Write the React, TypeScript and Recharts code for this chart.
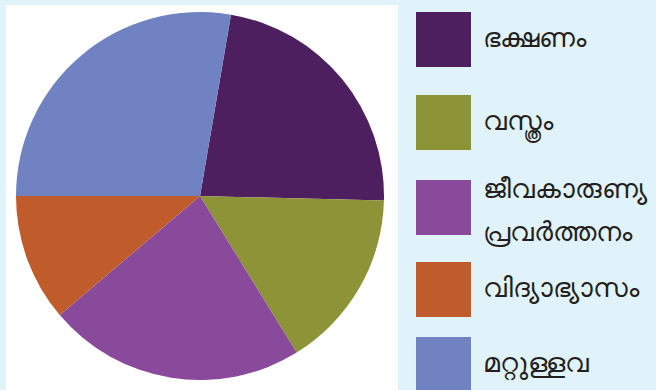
import React from 'react';
import { PieChart, Pie, Cell, Legend } from 'recharts';

const categories = ['ഭക്ഷണം', 'വസ്ത്രം', 'ജീവകാരുണ്യ പ്രവർത്തനം', 'വിദ്യാഭ്യാസം', 'മറ്റുള്ളവ'];
const shares = [22.7, 15.8, 22.6, 11.2, 27.7];
const colors = ['#4E1F5E', '#8D9337', '#8A4A9B', '#C05B2B', '#7182C2'];

const data = categories.map((name, i) => ({ name, value: shares[i] }));

const legendTops = [12, 95, 180, 262, 337];

const renderLegend = () => {
  return (
    <div style={{ position: 'relative', width: 240, height: 390 }}>
      {categories.map((name, i) => {
        const lines = name.split(' ');
        return (
          <div
            key={name}
            style={{
              position: 'absolute',
              left: 0,
              top: legendTops[i],
              height: 55,
              display: 'flex',
              alignItems: 'center',
            }}
          >
            <div style={{ width: 55, height: 55, background: colors[i], flex: 'none' }} />
            <div
              style={{
                marginLeft: 12,
                fontFamily: '"Noto Sans", "DejaVu Sans", sans-serif',
                fontSize: 27,
                color: '#231F20',
                lineHeight: '43px',
                whiteSpace: 'nowrap',
                marginTop: lines.length > 1 ? 2 : -7,
              }}
            >
              {lines.map((l, k) => (
                <div key={k}>{l}</div>
              ))}
            </div>
          </div>
        );
      })}
    </div>
  );
};

export default function App() {
  return (
    <div
      style={{
        position: 'fixed',
        left: 0,
        top: 0,
        width: 656,
        height: 390,
        background: '#E0F2FA',
        overflow: 'hidden',
      }}
    >
      <div
        style={{
          position: 'absolute',
          left: 6,
          top: 5,
          width: 392,
          height: 385,
          background: '#FFFFFF',
        }}
      />
      <div style={{ position: 'absolute', left: 0, top: 0 }}>
        <PieChart width={656} height={390}>
          <Pie
            data={data}
            dataKey="value"
            nameKey="name"
            cx={195}
            cy={191}
            outerRadius={184}
            startAngle={80.3}
            endAngle={-279.7}
            stroke="none"
            isAnimationActive={false}
          >
            {data.map((d, i) => (
              <Cell key={d.name} fill={colors[i]} />
            ))}
          </Pie>
          <Legend
            content={renderLegend}
            wrapperStyle={{ position: 'absolute', left: 416, top: 0, width: 240, height: 390 }}
          />
        </PieChart>
      </div>
    </div>
  );
}
